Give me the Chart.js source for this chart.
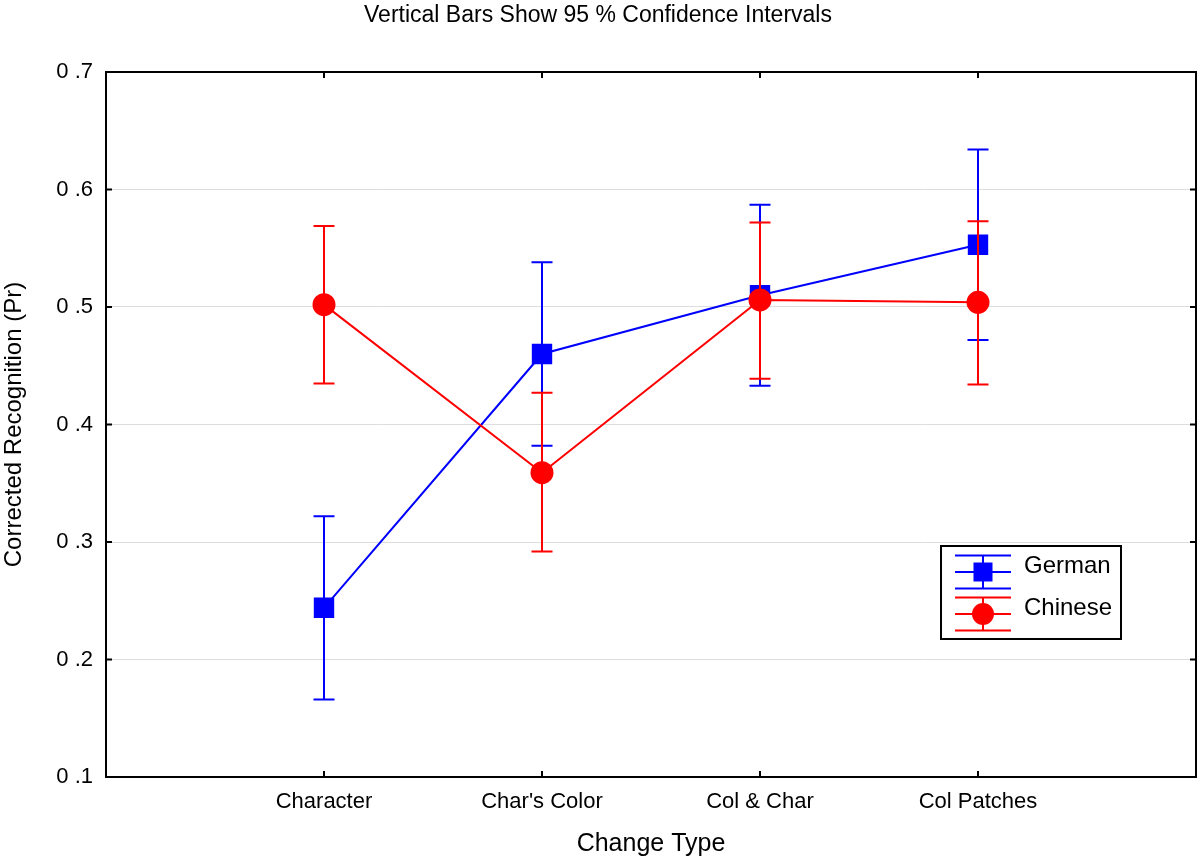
<!DOCTYPE html>
<html>
<head>
<meta charset="utf-8">
<script src="https://cdn.jsdelivr.net/npm/chart.js@4"></script>
<style>
  html, body { margin: 0; padding: 0; background: #fff; overflow: hidden; }
</style>
</head>
<body>
<canvas id="chart" width="1200" height="862"></canvas>
<script>
const categories = ['Character', "Char's Color", 'Col & Char', 'Col Patches'];
const germanMean = [0.244, 0.460, 0.510, 0.553];
const germanLow = [0.166, 0.382, 0.433, 0.472];
const germanHigh = [0.322, 0.538, 0.587, 0.634];
const chineseMean = [0.502, 0.359, 0.506, 0.504];
const chineseLow = [0.435, 0.292, 0.439, 0.434];
const chineseHigh = [0.569, 0.427, 0.572, 0.573];
const yTicks = [0.1, 0.2, 0.3, 0.4, 0.5, 0.6, 0.7];

const FONT = 'Arial, "Liberation Sans", sans-serif';
const BLUE = '#0000ff';
const RED = '#ff0000';

const toPoints = arr => arr.map((v, i) => ({ x: i + 1, y: v }));

// error bars are drawn right before their own dataset, so points sit on top
const errorBars = {
    id: 'errorBars',
    beforeDatasetDraw(chart, args) {
        const ds = chart.data.datasets[args.index];
        const x = chart.scales.x, y = chart.scales.y;
        const ctx = chart.ctx;
        ctx.save();
        ctx.strokeStyle = ds.borderColor;
        ctx.lineWidth = 2;
        ds.low.forEach((lo, i) => {
            const px = x.getPixelForValue(i + 1);
            const pLo = y.getPixelForValue(lo);
            const pHi = y.getPixelForValue(ds.high[i]);
            ctx.beginPath();
            ctx.moveTo(px, pLo); ctx.lineTo(px, pHi);
            ctx.moveTo(px - 10.5, pLo); ctx.lineTo(px + 10.5, pLo);
            ctx.moveTo(px - 10.5, pHi); ctx.lineTo(px + 10.5, pHi);
            ctx.stroke();
        });
        ctx.restore();
    }
};

const frame = {
    id: 'frame',
    afterDraw(chart) {
        const { ctx, chartArea: a } = chart;
        const x = chart.scales.x, y = chart.scales.y;
        ctx.save();
        ctx.strokeStyle = '#000';
        ctx.lineWidth = 2;
        ctx.strokeRect(a.left, a.top, a.right - a.left, a.bottom - a.top);
        // inward ticks on all four sides
        ctx.beginPath();
        categories.forEach((c, i) => {
            const px = x.getPixelForValue(i + 1);
            ctx.moveTo(px, a.top); ctx.lineTo(px, a.top + 6);
            ctx.moveTo(px, a.bottom); ctx.lineTo(px, a.bottom - 6);
        });
        yTicks.slice(1, -1).forEach(v => {
            const py = y.getPixelForValue(v);
            ctx.moveTo(a.left, py); ctx.lineTo(a.left + 6, py);
            ctx.moveTo(a.right, py); ctx.lineTo(a.right - 6, py);
        });
        ctx.stroke();

        // legend box
        const bx = a.right - 255, by = a.top + 474, bw = 180, bh = 93;
        ctx.lineWidth = 2;
        ctx.strokeRect(bx, by, bw, bh);
        const sx = bx + 42;
        chart.data.datasets.forEach((ds, k) => {
            const cy = by + 26 + k * 42;
            ctx.strokeStyle = ds.borderColor;
            ctx.fillStyle = ds.borderColor;
            ctx.lineWidth = 2;
            ctx.beginPath();
            [-16.5, 0, 16.5].forEach(d => {
                ctx.moveTo(sx - 28, cy + d); ctx.lineTo(sx + 28, cy + d);
            });
            ctx.moveTo(sx, cy - 16.5); ctx.lineTo(sx, cy + 16.5);
            ctx.stroke();
            if (ds.pointStyle === 'rect') {
                ctx.fillRect(sx - 9.5, cy - 9.5, 19, 19);
            } else {
                ctx.beginPath();
                ctx.arc(sx, cy, 11, 0, Math.PI * 2);
                ctx.fill();
            }
            ctx.fillStyle = '#000';
            ctx.font = '24px ' + FONT;
            ctx.textBaseline = 'middle';
            ctx.textAlign = 'left';
            ctx.fillText(ds.label, bx + 83, cy - 6);
        });
        ctx.restore();
    }
};

new Chart(document.getElementById('chart'), {
    type: 'line',
    data: {
        datasets: [
            {
                label: 'German',
                data: toPoints(germanMean),
                low: germanLow,
                high: germanHigh,
                borderColor: BLUE,
                backgroundColor: BLUE,
                borderWidth: 2,
                pointStyle: 'rect',
                pointRadius: 13,
                pointHoverRadius: 13,
                order: 2
            },
            {
                label: 'Chinese',
                data: toPoints(chineseMean),
                low: chineseLow,
                high: chineseHigh,
                borderColor: RED,
                backgroundColor: RED,
                borderWidth: 2,
                pointStyle: 'circle',
                pointRadius: 10.5,
                pointHoverRadius: 10.5,
                order: 1
            }
        ]
    },
    options: {
        responsive: false,
        devicePixelRatio: 1,
        animation: false,
        layout: { autoPadding: false, padding: { left: 0, right: 4, top: 0, bottom: 0 } },
        plugins: {
            legend: { display: false },
            tooltip: { enabled: false },
            title: {
                display: true,
                text: 'Vertical Bars Show 95 % Confidence Intervals',
                color: '#000',
                font: { family: FONT, size: 23, weight: 'normal' },
                padding: { top: 2, bottom: 42.4 }
            }
        },
        scales: {
            x: {
                type: 'linear',
                min: 0,
                max: 5,
                afterBuildTicks: scale => {
                    scale.ticks = categories.map((c, i) => ({ value: i + 1 }));
                },
                afterFit: scale => {
                    scale.height = 85;
                    scale.paddingLeft = 0;
                    scale.paddingRight = 0;
                },
                ticks: {
                    color: '#000',
                    font: { family: FONT, size: 22 },
                    padding: 12,
                    maxRotation: 0,
                    callback: v => categories[v - 1]
                },
                grid: { display: false, drawTicks: false },
                border: { display: false },
                title: {
                    display: true,
                    text: 'Change Type',
                    color: '#000',
                    font: { family: FONT, size: 25 },
                    padding: { top: 0, bottom: 3 }
                }
            },
            y: {
                min: 0.1,
                max: 0.7,
                afterBuildTicks: scale => {
                    scale.ticks = yTicks.map(v => ({ value: v }));
                },
                afterFit: scale => { scale.width = 106; },
                ticks: {
                    color: '#000',
                    font: { family: FONT, size: 22 },
                    padding: 13,
                    callback: v => v.toFixed(1).replace('0.', '0 .')
                },
                grid: {
                    drawTicks: false,
                    lineWidth: 1,
                    color: c => (c.tick && c.tick.value > 0.15 && c.tick.value < 0.65) ? '#dddddd' : 'rgba(0,0,0,0)'
                },
                border: { display: false },
                title: {
                    display: true,
                    text: 'Corrected Recognition (Pr)',
                    color: '#000',
                    font: { family: FONT, size: 24 },
                    padding: { top: 0, bottom: 0 }
                }
            }
        }
    },
    plugins: [errorBars, frame]
});
</script>
</body>
</html>
